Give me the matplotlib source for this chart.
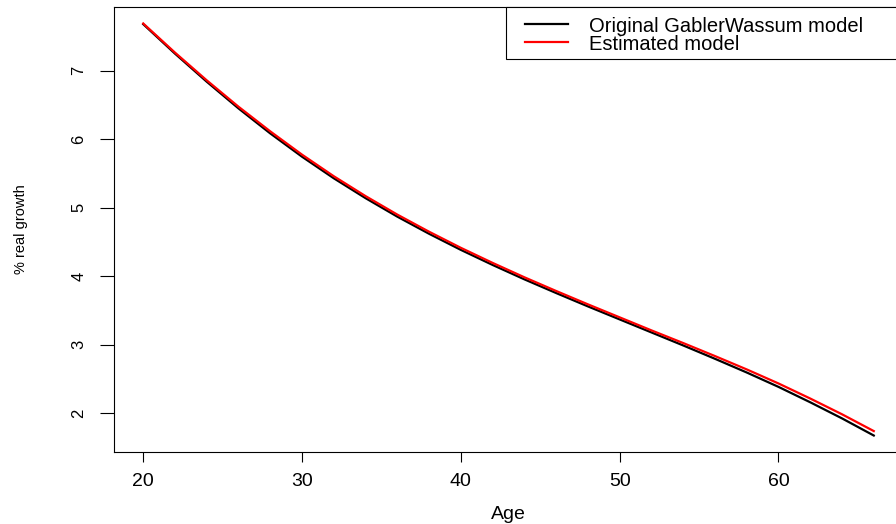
import matplotlib
matplotlib.use("Agg")
import matplotlib.pyplot as plt
from matplotlib.patches import Rectangle
from matplotlib.lines import Line2D

plt.rcParams['font.family'] = ['Liberation Sans', 'DejaVu Sans']

# Age grid and growth-rate curves (% real growth)
ages = [20, 22, 24, 26, 28, 30, 32, 34, 36, 38, 40, 42,
        44, 46, 48, 50, 52, 54, 56, 58, 60, 62, 64, 66]
original_gw = [7.68, 7.25, 6.84, 6.45, 6.085, 5.745, 5.43, 5.14, 4.87, 4.62, 4.385, 4.165,
               3.955, 3.755, 3.56, 3.37, 3.18, 2.99, 2.795, 2.595, 2.385, 2.16, 1.925, 1.675]
estimated = [7.69, 7.265, 6.86, 6.475, 6.115, 5.775, 5.46, 5.17, 4.90, 4.65, 4.415, 4.195,
             3.985, 3.785, 3.59, 3.40, 3.21, 3.025, 2.835, 2.64, 2.435, 2.215, 1.985, 1.74]

x_ticks = [20, 30, 40, 50, 60]
y_ticks = [2, 3, 4, 5, 6, 7]
legend_labels = ["Original GablerWassum model", "Estimated model"]
colors = ["black", "#ff0000"]

W, H = 896, 524
fig = plt.figure(figsize=(W / 100, H / 100), dpi=100)
left, right, top, bottom = 114, 903, 7, 452
ax = fig.add_axes([left / W, (H - bottom) / H, (right - left) / W, (bottom - top) / H])

ax.plot(ages, original_gw, color=colors[0], lw=1.6, solid_joinstyle='round')
ax.plot(ages, estimated, color=colors[1], lw=1.6, solid_joinstyle='round')
ax.margins(x=0.04, y=0.04)

ax.set_xticks(x_ticks)
ax.set_yticks(y_ticks)
ax.set_xticklabels([str(v) for v in x_ticks], fontsize=14)
ax.set_yticklabels([str(v) for v in y_ticks], fontsize=12, rotation=90, va='center')
ax.tick_params(axis='x', length=7, width=0.8, pad=8)
ax.tick_params(axis='y', length=10, width=0.8, pad=10)

for sp in ax.spines.values():
    sp.set_linewidth(0.8)
    sp.set_color('black')

ax.set_xlabel("Age", fontsize=14)
ax.xaxis.set_label_coords(0.5, -0.141)
ax.xaxis.label.set_va('center')
ax.set_ylabel("% real growth", fontsize=10.5)
ax.yaxis.set_label_coords(-0.1185, 0.5)
ax.yaxis.label.set_va('center')
ax.yaxis.label.set_ha('center')

# Legend box in the top-right corner
tr = ax.transAxes
box_left = (506 - left) / (right - left)
box_bottom = (bottom - 59) / (bottom - top)
ax.add_patch(Rectangle((box_left, box_bottom), 1.2 - box_left, 1 - box_bottom,
                       transform=tr, facecolor='white', edgecolor='black',
                       linewidth=0.8, clip_on=False, zorder=5))
hx0 = (525 - left) / (right - left)
hx1 = (568 - left) / (right - left)
tx = (589 - left) / (right - left)
rows = [(bottom - 24) / (bottom - top), (bottom - 42) / (bottom - top)]
for lab, col, ry in zip(legend_labels, colors, rows):
    ax.add_line(Line2D([hx0, hx1], [ry, ry], transform=tr, color=col, lw=1.6,
                       clip_on=False, zorder=6))
    ax.text(tx, ry, lab, transform=tr, fontsize=14.5, va='center_baseline', ha='left',
            zorder=6, clip_on=False)

fig.savefig("out.png", dpi=100)
